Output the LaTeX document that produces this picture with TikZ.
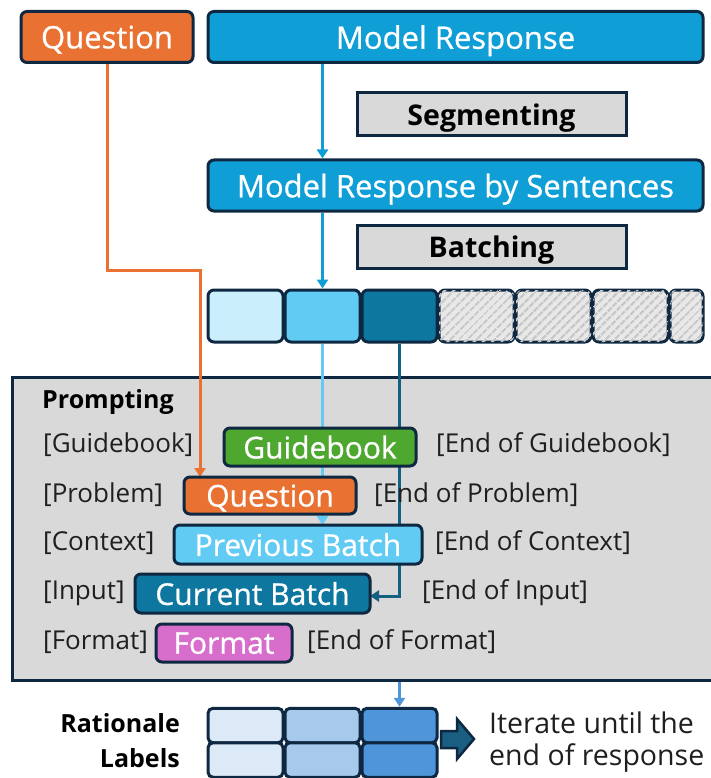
\documentclass[tikz,border=0pt]{standalone}
\usepackage{fontspec}
\setmainfont{Open Sans}
\newfontfamily\boxfont{Open Sans}[FakeBold=0.8]
\usetikzlibrary{arrows.meta,patterns.meta}
\definecolor{bord}{HTML}{0E2841}
\definecolor{qorange}{HTML}{E97132}
\definecolor{mblue}{HTML}{0F9ED5}
\definecolor{lgray}{HTML}{D9D9D9}
\definecolor{hatchbg}{HTML}{E8E8E8}
\definecolor{hatchln}{HTML}{C8C8C8}
\definecolor{segA}{HTML}{CAEEFB}
\definecolor{segB}{HTML}{61CBF3}
\definecolor{segC}{HTML}{0E77A0}
\definecolor{dline}{HTML}{156082}
\definecolor{ggreen}{HTML}{4EA72E}
\definecolor{fpink}{HTML}{D86ECC}
\definecolor{ratA}{HTML}{DCE9F6}
\definecolor{ratB}{HTML}{A6C9EC}
\definecolor{ratC}{HTML}{4E95D9}
\definecolor{arrowfill}{HTML}{1A5E82}
\tikzset{
  fbox/.style={draw=bord, line width=3pt, rounded corners=6pt, inner sep=0pt, text depth=0pt, text=white, font=\boxfont\fontsize{31}{36}\selectfont},
  gbox/.style={draw=bord, line width=3pt, fill=lgray, inner sep=0pt, text depth=0pt, font=\fontsize{28.5}{34}\selectfont\bfseries},
  pbox/.style={draw=bord, line width=3pt, rounded corners=6pt, inner sep=0pt, text depth=0pt, text=white, font=\boxfont\fontsize{30}{34}\selectfont},
  segbox/.style={draw=bord, line width=3pt, rounded corners=6pt, inner sep=0pt, minimum height=52, minimum width=75},
  hatched/.style={segbox, fill=hatchbg, postaction={pattern={Lines[angle=45,distance=6.5pt,line width=2.4pt]}, pattern color=hatchln}},
  ratbox/.style={draw=bord, line width=3pt, rounded corners=5pt, inner sep=0pt, minimum height=34.5, minimum width=75},
  lbl/.style={anchor=west, inner sep=0pt, text=black!88, font=\fontsize{26}{30}\selectfont},
  blbl/.style={inner sep=0pt, text=black, font=\fontsize{25}{30}\selectfont\bfseries},
  conn/.style={line width=3pt, -{Triangle[width=11pt,length=9pt]}},
}
\begin{document}
\begin{tikzpicture}[x=1pt,y=-1pt]
\useasboundingbox (0,0) rectangle (710,778);
% top boxes
\node[fbox, fill=qorange, minimum width=172, minimum height=51] (q) at (107,37) {Question};
\node[fbox, fill=mblue, minimum width=495, minimum height=51] (mr) at (455.5,37) {Model Response};
\node[gbox, minimum width=269, minimum height=43] (seg) at (491.5,114.5) {Segmenting};
\node[fbox, fill=mblue, minimum width=495, minimum height=51] (mrs) at (455.5,185.5) {Model Response by Sentences};
\node[gbox, minimum width=269, minimum height=43] (bat) at (491.5,246.5) {Batching};
% segments
\node[segbox, fill=segA] (s1) at (245.5,316) {};
\node[segbox, fill=segB] (s2) at (322.5,316) {};
\node[segbox, fill=segC] (s3) at (399.5,316) {};
\node[hatched] (s4) at (476.5,316) {};
\node[hatched] (s5) at (553.5,316) {};
\node[hatched] (s6) at (630.5,316) {};
\node[hatched, minimum width=33] (s7) at (686.5,316) {};
% connectors top
\draw[conn, draw=mblue] (mr.south -| s2) -- (mrs.north -| s2);
\draw[conn, draw=mblue] (mrs.south -| s2) -- (s2.north);
% prompting panel
\node[draw=bord, line width=3pt, fill=lgray, minimum width=713, minimum height=303, inner sep=0pt] (pr) at (368.5,528.5) {};
\node[blbl, anchor=west] (prt) at (42,402) {Prompting};
% connectors into panel (behind boxes)
\coordinate (qbend) at (200,270);
\draw[conn, draw=qorange] (q.south) |- (qbend) -- (200,477);
\draw[conn, draw=segB] (s2.south) -- (322.5,525);
\coordinate (cbin) at (370,596);
\draw[conn, draw=dline] (s3.south) |- (cbin);
% labels
\node[lbl] (l1) at (43,445) {[Guidebook]};
\node[lbl] (e1) at (436,445) {[End of Guidebook]};
\node[lbl] (l2) at (43,495) {[Problem]};
\node[lbl] (e2) at (374,495) {[End of Problem]};
\node[lbl] (l3) at (43,543) {[Context]};
\node[lbl] (e3) at (435,543) {[End of Context]};
\node[lbl] (l4) at (43,593) {[Input]};
\node[lbl] (e4) at (422,593) {[End of Input]};
\node[lbl] (l5) at (43,642) {[Format]};
\node[lbl] (e5) at (307,642) {[End of Format]};
% prompt boxes
\node[pbox, fill=ggreen, minimum width=192, minimum height=38] (gb) at (320,447) {Guidebook};
\node[pbox, fill=qorange, minimum width=172, minimum height=37] (pq) at (270,495.5) {Question};
\node[pbox, fill=segB, minimum width=248, minimum height=39] (pb) at (298,544.5) {Previous Batch};
\node[pbox, fill=segC, minimum width=235, minimum height=39] (cb) at (252.5,593.5) {Current Batch};
\node[pbox, fill=fpink, minimum width=136, minimum height=38] (fm) at (224,643) {Format};
% rationale labels
\node[ratbox, fill=ratA] (r11) at (245.5,725.5) {};
\node[ratbox, fill=ratB] (r12) at (322.5,725.5) {};
\node[ratbox, fill=ratC] (r13) at (399.5,725.5) {};
\node[ratbox, fill=ratA] (r21) at (245.5,760) {};
\node[ratbox, fill=ratB] (r22) at (322.5,760) {};
\node[ratbox, fill=ratC] (r23) at (399.5,760) {};
\draw[conn, draw=ratC, line width=2.5pt] (pr.south -| r13) -- (r13.north);
\node[blbl, anchor=east] (rt1) at (180,723) {Rationale};
\node[blbl, anchor=east] (rt2) at (180,758) {Labels};
\draw[draw=bord, line width=2.5pt, fill=arrowfill] (441,731) -- (457,731) -- (457,719) -- (474,739) -- (457,759) -- (457,748) -- (441,748) -- cycle;
\node[lbl, font=\fontsize{28.5}{32}\selectfont] (it1) at (489,723) {Iterate until the};
\node[lbl, font=\fontsize{28.5}{32}\selectfont] (it2) at (489,758) {end of response};
\end{tikzpicture}
\end{document}
